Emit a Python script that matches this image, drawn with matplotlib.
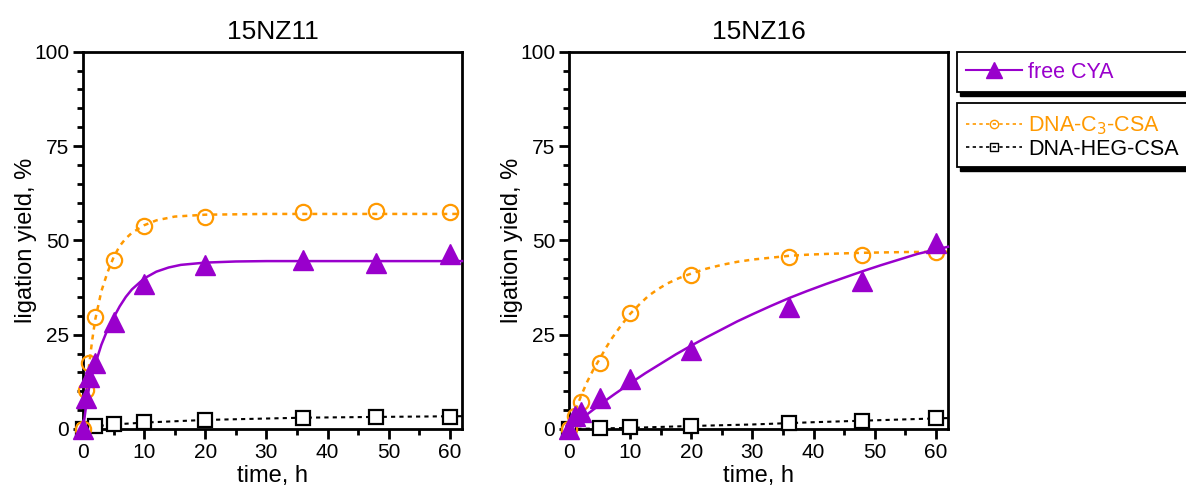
import matplotlib
matplotlib.use("Agg")
import matplotlib.pyplot as plt
from matplotlib.lines import Line2D
from matplotlib.patches import Rectangle

plt.rcParams['font.family'] = ['Liberation Sans', 'DejaVu Sans']

purple = '#9900cc'
orange = '#ff9900'

# ---- 15NZ11 ----
t_a = [0, 0.5, 1, 2, 5, 10, 20, 36, 48, 60]
cya_a = [0, 8.1, 13.7, 17.4, 28.3, 38.4, 43.5, 44.8, 44.0, 46.4]
c3_a = [0, 10.3, 17.6, 29.8, 44.8, 53.9, 56.3, 57.4, 57.9, 57.4]
t_heg_a = [0, 2, 5, 10, 20, 36, 48, 60]
heg_a = [0, 0.8, 1.3, 1.8, 2.4, 3.0, 3.1, 3.3]

# fitted curves
fit_t_cya_a = [0, 0.5, 1, 1.5, 2, 3, 4, 5, 6, 7, 8, 10, 12, 14, 16, 20, 25, 30, 40, 62]
fit_cya_a = [0, 6, 11, 14.5, 17.2, 22.3, 26.3, 29.5, 32.5, 35, 37, 39.9, 41.7, 42.8, 43.5,
             44.1, 44.4, 44.5, 44.5, 44.5]
fit_t_c3_a = [0, 0.5, 1, 1.5, 2, 3, 4, 5, 6, 7, 8, 10, 12, 15, 20, 30, 62]
fit_c3_a = [0, 9, 17, 23.5, 29, 36.5, 41.5, 45.5, 48.5, 50.5, 52, 54, 55.3, 56.3, 56.8, 57, 57]
fit_t_heg_a = [0, 5, 10, 20, 36, 48, 62]
fit_heg_a = [0.4, 1.2, 1.7, 2.4, 3.0, 3.2, 3.4]

# ---- 15NZ16 ----
t_b = [0, 1, 2, 5, 10, 20, 36, 48, 60]
cya_b = [0, 3.5, 4.5, 8.2, 13.3, 21.0, 32.3, 39.3, 49.2]
c3_b = [0, 3.5, 7.1, 17.4, 30.8, 40.8, 45.5, 46.0, 46.8]
t_heg_b = [0, 5, 10, 20, 36, 48, 60]
heg_b = [0, 0.2, 0.4, 0.9, 1.5, 2.2, 2.8]

fit_t_cya_b = [0, 2.5, 5, 7.5, 10, 12.5, 15, 17.5, 20, 22.5, 25, 27.5, 30, 33, 36, 39, 42,
               45, 48, 51, 54, 57, 62]
fit_cya_b = [0, 3.3, 6.4, 9.3, 12.1, 14.8, 17.3, 19.8, 22.1, 24.3, 26.4, 28.5, 30.4, 32.6,
             34.7, 36.6, 38.4, 40.1, 41.8, 43.4, 44.9, 46.4, 48.3]
fit_t_c3_b = [0, 1, 2, 3, 4, 5, 6, 7, 8.5, 10, 11.5, 13, 14.5, 16, 18, 20, 22.5, 25, 27.5,
              30, 33, 36, 39, 42, 48, 55, 62]
fit_c3_b = [0, 4.7, 8.9, 12.6, 15.8, 18.5, 21.4, 24, 27.4, 30.5, 33, 35.3, 37, 38.5, 40,
            41.2, 42.5, 43.5, 44.3, 44.9, 45.4, 45.9, 46.2, 46.4, 46.7, 46.9, 47]
fit_t_heg_b = [0, 10, 20, 30, 40, 50, 62]
fit_heg_b = [0, 0.3, 0.8, 1.2, 1.8, 2.3, 2.9]

panels = [
    ('15NZ11', t_a, cya_a, c3_a, t_heg_a, heg_a,
     fit_t_cya_a, fit_cya_a, fit_t_c3_a, fit_c3_a, fit_t_heg_a, fit_heg_a),
    ('15NZ16', t_b, cya_b, c3_b, t_heg_b, heg_b,
     fit_t_cya_b, fit_cya_b, fit_t_c3_b, fit_c3_b, fit_t_heg_b, fit_heg_b),
]

W, H = 1186, 493
fig = plt.figure(figsize=(W / 100, H / 100), dpi=100)
lefts = [83, 569]

for (title, t, cya, c3, th, heg, ftc, fc, ft3, f3, fth, fh), lx in zip(panels, lefts):
    ax = fig.add_axes([lx / W, (H - 429) / H, 379 / W, 377.3 / H])
    # HEG
    ax.plot(fth, fh, color='black', lw=1.5, ls=(0, (2, 2)), clip_on=False, zorder=2)
    ax.plot(th, heg, ls='none', marker='s', ms=10, mfc='white', mec='black', mew=1.6,
            clip_on=False, zorder=3)
    # C3
    ax.plot(ft3, f3, color=orange, lw=1.8, ls=(0, (2, 2)), clip_on=False, zorder=2)
    ax.plot(t, c3, ls='none', marker='o', ms=11, mfc='none', mec=orange, mew=1.6,
            clip_on=False, zorder=3)
    # free CYA
    ax.plot(ftc, fc, color=purple, lw=1.8, clip_on=False, zorder=4)
    ax.plot(t, cya, ls='none', marker='^', ms=14, color=purple, clip_on=False, zorder=5)

    ax.set_xlim(0, 62)
    ax.set_ylim(0, 100)
    ax.set_xticks([0, 10, 20, 30, 40, 50, 60])
    ax.set_xticks(range(5, 60, 10), minor=True)
    ax.set_yticks([0, 25, 50, 75, 100])
    ax.set_yticks([v for v in range(5, 100, 5) if v % 25], minor=True)
    for s in ax.spines.values():
        s.set_linewidth(2)
    ax.tick_params(which='major', direction='out', length=7, width=2, labelsize=15, pad=3)
    ax.tick_params(which='minor', direction='out', length=4.5, width=2)
    ax.set_xlabel('time, h', fontsize=17, labelpad=2)
    ax.set_ylabel('ligation yield, %', fontsize=17, labelpad=-2)
    ax.set_title(title, fontsize=19, pad=9)

# legend boxes with a solid black shadow, running off the right edge
for y0, y1 in [(52, 92), (103, 167)]:
    fig.patches.append(Rectangle(((957 + 3) / W, (H - y1 - 4) / H), 300 / W, (y1 - y0) / H,
                                 transform=fig.transFigure, facecolor='black',
                                 edgecolor='black', lw=1, zorder=1))
    fig.patches.append(Rectangle((957 / W, (H - y1) / H), 300 / W, (y1 - y0) / H,
                                 transform=fig.transFigure, facecolor='white',
                                 edgecolor='black', lw=1.3, zorder=2))

h1 = [Line2D([], [], color=purple, lw=1.5, marker='^', ms=12)]
leg1 = fig.legend(h1, ['free CYA'], loc='center left',
                  bbox_to_anchor=(966 / W, (H - 72) / H),
                  fontsize=15.5, frameon=False, labelcolor=[purple],
                  handlelength=2.6, handletextpad=0.3, borderpad=0, borderaxespad=0)

h2 = [Line2D([], [], color=orange, lw=1.2, ls=(0, (2, 2)), marker='o', ms=6, mfc='none', mec=orange),
      Line2D([], [], color='black', lw=1.2, ls=(0, (2, 2)), marker='s', ms=6, mfc='none', mec='black')]
leg2 = fig.legend(h2, ['DNA-C$_3$-CSA', 'DNA-HEG-CSA'], loc='center left',
                  bbox_to_anchor=(966 / W, (H - 137) / H),
                  fontsize=15.5, frameon=False, labelcolor=[orange, 'black'],
                  handlelength=2.6, handletextpad=0.3, labelspacing=0.1,
                  borderpad=0, borderaxespad=0)

fig.savefig('out.png', dpi=100)
